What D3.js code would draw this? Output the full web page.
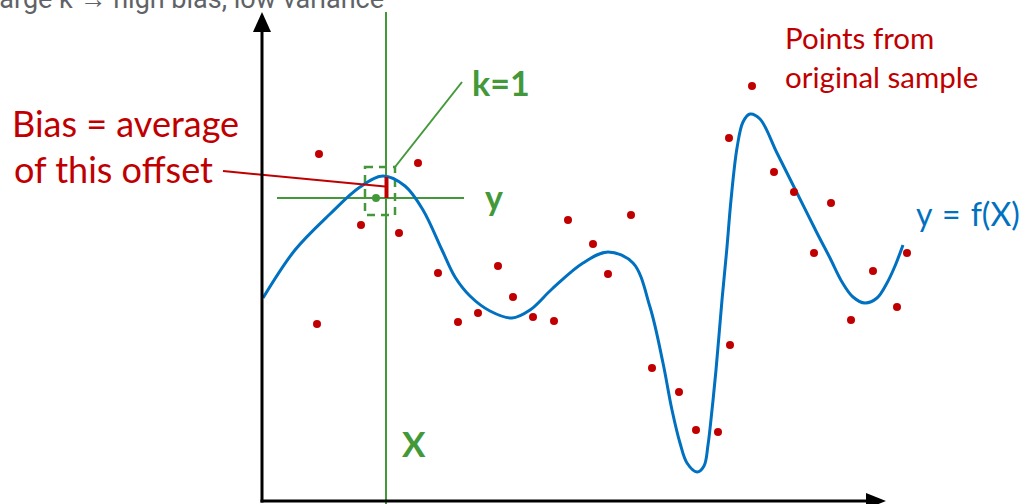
<!DOCTYPE html>
<html>
<head>
<meta charset="utf-8">
<script src="https://cdn.jsdelivr.net/npm/d3@7"></script>
<style>
  html, body { margin: 0; padding: 0; background: #fff; overflow: hidden; }
  svg { display: block; }
</style>
</head>
<body>
<svg id="chart" width="1029" height="504"></svg>
<script>
// True function y = f(X), traced as (X, y) pairs
const curveX = [1, 33, 68, 98, 121, 143, 161, 180, 193, 208, 228, 250, 268, 290, 321, 346, 371, 388, 401, 410, 418, 425, 435, 442, 446, 450, 454, 460, 465, 469, 475, 481, 488, 498, 515, 535, 555, 568, 580, 591, 603, 615, 625, 633, 641];
const curveY = [203, 251, 287, 314, 325, 315, 291, 251, 224, 205, 190, 183, 191, 212, 238, 249, 238, 194, 138, 91, 58, 38, 29, 35, 56, 91, 131, 201, 254, 301, 353, 379, 387, 382, 348, 308, 268, 243, 219, 204, 198, 203, 218, 235, 256];

// Points from the original sample
const sampleX = [57, 55, 99, 137, 156, 176, 196, 216, 236, 251, 271, 292, 306, 331, 346, 369, 390, 417, 434, 456, 468, 467, 490, 512, 532, 569, 552, 589, 611, 635, 645];
const sampleY = [347, 177, 276, 268, 338, 228, 179, 188, 235, 204, 184, 180, 281, 257, 227, 286, 133, 109, 71, 69, 156, 363, 415, 329, 309, 298, 248, 181, 230, 194, 248];

// k = 1 query: query X, its nearest neighbour, the neighbour's y, and f at the query X
const queryX = 124;
const neighbourX = 114;
const neighbourY = 303;
const fAtQuery = 324;

// Axis extents
const xDomain = [0, 623];
const yDomain = [0, 488];

const W = 1029, H = 504;
const RED = "#c00000", BLUE = "#0070c0", GREEN = "#43993a";

const svg = d3.select("#chart");
svg.append("rect").attr("width", W).attr("height", H).attr("fill", "#fff");

const x = d3.scaleLinear().domain(xDomain).range([262, 885]);
const y = d3.scaleLinear().domain(yDomain).range([501, 13]);

// Green guide lines through the query point
svg.append("line")
  .attr("x1", x(queryX)).attr("x2", x(queryX))
  .attr("y1", 12).attr("y2", H)
  .attr("stroke", GREEN).attr("stroke-width", 2);

svg.append("line")
  .attr("x1", x(queryX) - 109).attr("x2", x(queryX) + 78)
  .attr("y1", y(neighbourY)).attr("y2", y(neighbourY))
  .attr("stroke", GREEN).attr("stroke-width", 2);

// Dashed neighbourhood box
svg.append("rect")
  .attr("x", x(neighbourX) - 11).attr("y", y(neighbourY) - 31)
  .attr("width", 30).attr("height", 48)
  .attr("fill", "none")
  .attr("stroke", GREEN).attr("stroke-width", 2.5)
  .attr("stroke-dasharray", "8,6");

// f(X)
const line = d3.line()
  .x((d, i) => x(curveX[i]))
  .y((d, i) => y(curveY[i]))
  .curve(d3.curveCatmullRom.alpha(0.5));

svg.append("path")
  .datum(curveX)
  .attr("d", line)
  .attr("fill", "none")
  .attr("stroke", BLUE)
  .attr("stroke-width", 3)
  .attr("stroke-linejoin", "round");

// Sample points
svg.append("g").selectAll("circle")
  .data(sampleX)
  .join("circle")
  .attr("cx", (d) => x(d))
  .attr("cy", (d, i) => y(sampleY[i]))
  .attr("r", 4)
  .attr("fill", RED);

// Nearest neighbour
svg.append("circle")
  .attr("cx", x(neighbourX)).attr("cy", y(neighbourY))
  .attr("r", 4).attr("fill", GREEN);

// Offset between f(x0) and the neighbour's y
svg.append("line")
  .attr("x1", x(queryX) + 0.5).attr("x2", x(queryX) + 0.5)
  .attr("y1", y(fAtQuery)).attr("y2", y(neighbourY))
  .attr("stroke", RED).attr("stroke-width", 4);

// Callout leaders
svg.append("line")
  .attr("x1", 223).attr("y1", 171)
  .attr("x2", x(queryX) - 1).attr("y2", (y(fAtQuery) + y(neighbourY)) / 2 - 1)
  .attr("stroke", RED).attr("stroke-width", 2);

svg.append("line")
  .attr("x1", 395).attr("y1", 167)
  .attr("x2", 462).attr("y2", 82)
  .attr("stroke", GREEN).attr("stroke-width", 2);

// Axes with arrowheads
const ax = svg.append("g").attr("fill", "#000");
ax.append("line")
  .attr("x1", x(0)).attr("x2", x(0))
  .attr("y1", y(0) + 1.5).attr("y2", 30)
  .attr("stroke", "#000").attr("stroke-width", 3);
ax.append("path")
  .attr("d", `M${x(0) - 9},32 L${x(0) + 9},32 L${x(0)},12 Z`);
ax.append("line")
  .attr("x1", x(0) - 1.5).attr("x2", 868)
  .attr("y1", y(0)).attr("y2", y(0))
  .attr("stroke", "#000").attr("stroke-width", 3);
ax.append("path")
  .attr("d", `M866,${y(0) - 8} L866,${y(0) + 8} L886,${y(0)} Z`);

// Labels
const calibri = "Lato, 'Liberation Sans', sans-serif";

svg.append("text")
  .attr("x", 384).attr("y", 8)
  .attr("text-anchor", "end")
  .attr("font-family", "Roboto, sans-serif")
  .attr("font-size", 27)
  .attr("fill", "#5f6368")
  .text("Large k → high bias, low variance");

const bias = svg.append("text")
  .attr("font-family", calibri).attr("font-size", 36).attr("fill", RED);
bias.append("tspan").attr("x", 12).attr("y", 137).text("Bias = average");
bias.append("tspan").attr("x", 14).attr("y", 183).text("of this offset");

const pts = svg.append("text")
  .attr("font-family", calibri).attr("font-size", 29.5).attr("fill", RED);
pts.append("tspan").attr("x", 785).attr("y", 49).text("Points from");
pts.append("tspan").attr("x", 785).attr("y", 88).text("original sample");

svg.append("text")
  .attr("x", 916).attr("y", 226)
  .attr("font-family", calibri).attr("font-size", 32).attr("fill", BLUE)
  .attr("word-spacing", 2)
  .text("y = f(X)");

svg.append("text")
  .attr("x", 472).attr("y", 96)
  .attr("font-family", calibri).attr("font-weight", "bold")
  .attr("font-size", 34).attr("fill", GREEN)
  .text("k=1");

svg.append("text")
  .attr("x", 485).attr("y", 210)
  .attr("font-family", calibri).attr("font-weight", "bold")
  .attr("font-size", 34).attr("fill", GREEN)
  .text("y");

svg.append("text")
  .attr("x", 402).attr("y", 457)
  .attr("font-family", calibri).attr("font-weight", "bold")
  .attr("font-size", 35).attr("fill", GREEN)
  .text("X");
</script>
</body>
</html>
